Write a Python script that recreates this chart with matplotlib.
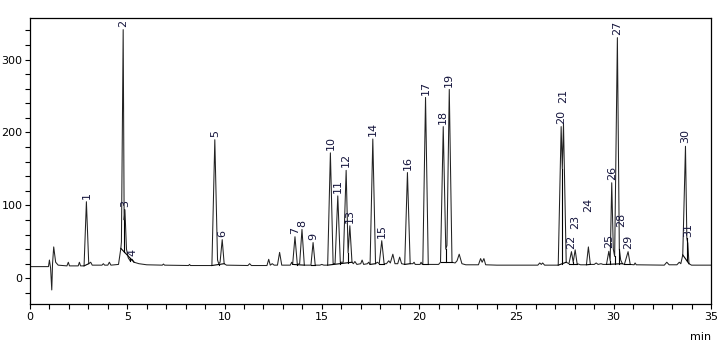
import numpy as np
import matplotlib
matplotlib.use('Agg')
import matplotlib.pyplot as plt
from matplotlib.ticker import MultipleLocator

# trazo del cromatograma (min, señal)
trace_t = [0.0, 0.95, 1.00, 1.06, 1.12, 1.16, 1.22, 1.32, 1.45, 1.90, 1.97, 2.03,
           2.48, 2.54, 2.60, 2.78, 2.90, 3.02, 3.12, 3.20, 3.70, 3.77, 3.84, 4.00,
           4.08, 4.16, 4.55, 4.67, 4.70, 4.79, 4.84, 4.88, 4.96, 5.05, 5.15, 5.25,
           5.35, 5.60, 6.00, 6.80, 6.86, 6.92, 8.15, 8.20, 8.25, 9.35, 9.50, 9.64,
           9.70, 9.77, 9.88, 9.98, 10.10, 11.20, 11.29, 11.38, 12.18, 12.27, 12.35,
           12.45, 12.55, 12.72, 12.83, 12.94, 13.38, 13.45, 13.50, 13.62, 13.74,
           13.86, 13.98, 14.10, 14.44, 14.55, 14.66, 14.90, 15.00, 15.10, 15.30,
           15.44, 15.58, 15.68, 15.82, 15.95, 16.10, 16.25, 16.35, 16.44, 16.55,
           16.62, 16.70, 16.80, 17.00, 17.07, 17.15, 17.35, 17.40, 17.48, 17.62,
           17.76, 17.85, 17.95, 18.08, 18.20, 18.32, 18.44, 18.52, 18.65, 18.76,
           18.90, 19.00, 19.10, 19.26, 19.40, 19.54, 19.68, 19.74, 19.80, 20.05,
           20.10, 20.16, 20.19, 20.33, 20.47, 21.00, 21.10, 21.24, 21.37, 21.43,
           21.55, 21.69, 21.85, 21.95, 22.06, 22.20, 22.40, 23.05, 23.16, 23.24,
           23.33, 23.42, 24.00, 26.10, 26.20, 26.28, 26.35, 26.45, 27.15, 27.30,
           27.36, 27.42, 27.56, 27.70, 27.83, 27.92, 28.02, 28.12, 28.30, 28.60,
           28.70, 28.80, 29.00, 29.10, 29.20, 29.35, 29.45, 29.63, 29.75, 29.82,
           29.90, 29.98, 30.05, 30.19, 30.29, 30.36, 30.45, 30.55, 30.74, 30.85,
           31.05, 31.10, 31.16, 32.60, 32.73, 32.85, 33.25, 33.37, 33.45, 33.55,
           33.69, 33.76, 33.81, 33.87, 34.00, 35.00]
trace_y = [16, 16, 25, 14, -16, 20, 43, 22, 18, 17, 22, 17,
           17, 22, 17, 17, 105, 20, 22, 18, 18, 20, 18, 18,
           22, 18, 19, 41, 50, 341, 80, 94, 40, 28, 24, 26,
           22, 20, 18.5, 18, 19.5, 18, 17.5, 19, 17.5, 17.5, 190, 25,
           20, 22, 53, 20, 18, 17.5, 20, 17.5, 17.5, 26, 18,
           20, 18, 18, 35.5, 18, 18, 22, 19, 57, 19,
           20, 67, 18, 18, 49, 18, 18, 19, 18, 18,
           172, 20, 20, 113, 22, 22, 148, 35, 72, 22,
           20, 23, 19, 20, 25, 19, 20, 22, 19, 191,
           20, 22, 20, 51.5, 20, 20, 24, 21, 33, 20,
           20, 29, 20, 19, 145, 20, 20, 22, 19, 19,
           22, 19, 19, 248, 19, 19, 22, 208, 40, 45,
           259, 22, 21, 24, 33, 20, 18.5, 18.5, 27, 22,
           27, 18.5, 18, 18, 21, 19, 21, 18, 18, 208,
           150, 212, 22, 20, 36.5, 22, 39, 20, 18.5, 18.5,
           43, 19, 19, 21, 19, 20, 19, 19, 37, 24,
           131, 40, 30, 330, 40, 25, 20, 19, 36.5, 19,
           18.5, 21, 18.5, 18, 22, 18.5, 18.5, 22, 20, 32,
           181, 55, 48, 20, 18, 18]

# tabla de picos: numero, tiempo de retencion, altura
peak_no = list(range(1, 32))
peak_rt = [2.90, 4.79, 4.88, 5.25, 9.50, 9.88, 13.62, 13.98, 14.55, 15.44,
           15.82, 16.25, 16.44, 17.62, 18.08, 19.40, 20.33, 21.24, 21.55, 27.30,
           27.42, 27.83, 28.02, 28.70, 29.75, 29.90, 30.19, 30.36, 30.74, 33.69,
           33.81]
peak_h = [105, 341, 94, 26, 190, 53, 57, 67, 49, 172,
          113, 148, 72, 191, 51.5, 145, 248, 208, 259, 208,
          212, 36.5, 39, 43, 37, 131, 330, 25, 36.5, 181,
          48]

# ventanas de integracion (inicio, fin) en min
integ_start = [2.78, 4.67, 9.35, 13.50, 14.44, 15.30, 17.48, 17.95, 19.26, 20.19,
               21.10, 27.15, 27.70, 28.60, 29.63, 30.55, 33.55]
integ_end = [3.02, 5.35, 9.98, 14.10, 14.66, 16.55, 17.76, 18.20, 19.54, 20.47,
             21.69, 27.56, 28.12, 28.80, 30.45, 30.85, 33.87]

# etiquetas desplazadas para que no se pisen
label_shift = {21: 24, 23: 25, 24: 44, 28: 42, 31: 4}

fig = plt.figure(figsize=(7.24, 3.45), dpi=100)
ax = fig.add_axes([0.0414, 0.119, 0.9406, 0.830])

tt = np.array(trace_t)
yy = np.array(trace_y)
ax.plot(tt, yy, color='#222222', lw=0.75)

# linea base de integracion y lineas de corte entre picos
rts = np.array(peak_rt)
for s, e in zip(integ_start, integ_end):
    ys, ye = np.interp(s, tt, yy), np.interp(e, tt, yy)
    ax.plot([s, e], [ys, ye], color='black', lw=0.8)
    inside = rts[(rts >= s) & (rts <= e)]
    for a, b in zip(inside[:-1], inside[1:]):
        m = (tt > a) & (tt < b)
        if not m.any():
            continue
        i = np.argmin(np.where(m, yy, np.inf))
        yb = np.interp(tt[i], [s, e], [ys, ye])
        ax.plot([tt[i], tt[i]], [yb, yy[i]], color='black', lw=0.8)

for n, t, h in zip(peak_no, peak_rt, peak_h):
    y = h + 4 + label_shift.get(n, 0)
    ax.text(t, y, str(n), rotation=90, ha='center', va='bottom',
            fontsize=8, color='#14143c')

ax.set_xlim(0, 35)
ax.set_ylim(-35.2, 357.5)
ax.xaxis.set_major_locator(MultipleLocator(5))
ax.xaxis.set_minor_locator(MultipleLocator(1))
ax.yaxis.set_major_locator(MultipleLocator(100))
ax.yaxis.set_minor_locator(MultipleLocator(20))
ax.tick_params(which='both', direction='out', length=3.5, width=0.8,
               labelsize=8, colors='black', pad=2)
for s in ax.spines.values():
    s.set_linewidth(0.9)

fig.text(0.982, 0.01, 'min', ha='right', va='bottom', fontsize=8)

fig.savefig('out.png', dpi=100)
